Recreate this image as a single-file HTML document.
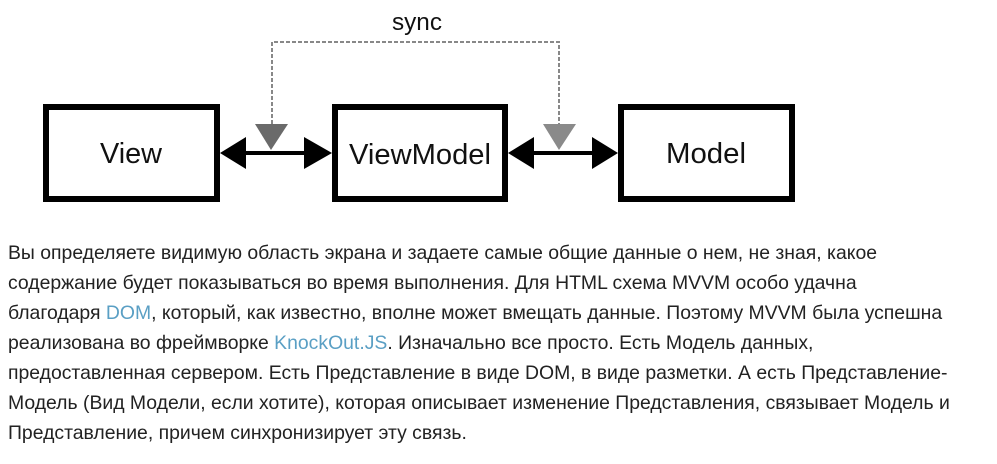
<!DOCTYPE html>
<html><head><meta charset="utf-8"><style>
body{margin:0;width:997px;height:464px;background:#fff;overflow:hidden;position:relative;font-family:"Liberation Sans",Arial,sans-serif}
.l{position:absolute;left:8px;font-size:19.4px;color:#222;white-space:nowrap;line-height:22px}
a{color:#5a9fc4;text-decoration:none}
</style></head><body>
<svg width="997" height="230" style="position:absolute;left:0;top:0" xmlns="http://www.w3.org/2000/svg">
<g fill="#fff" stroke="#000" stroke-width="6">
<rect x="46" y="107" width="171" height="92"/>
<rect x="335" y="107" width="170" height="92"/>
<rect x="621" y="107" width="171" height="92"/>
</g>
<g font-family="Liberation Sans, sans-serif" font-size="29" text-anchor="middle" fill="#111">
<text x="131" y="163" textLength="62" lengthAdjust="spacingAndGlyphs">View</text>
<text x="420" y="164" textLength="142" lengthAdjust="spacingAndGlyphs">ViewModel</text>
<text x="706" y="163" textLength="80" lengthAdjust="spacingAndGlyphs">Model</text>
<text x="417" y="30" font-size="24" textLength="50" lengthAdjust="spacingAndGlyphs">sync</text>
</g>
<path d="M272 124 V42 H559 V124" fill="none" stroke="#888" stroke-width="2" stroke-dasharray="4,2"/>
<polygon points="255,124 288,124 271,150" fill="#6a6a6a"/>
<polygon points="543,124 576,124 559,150" fill="#8a8a8a"/>
<g fill="#000">
<rect x="240" y="151" width="70" height="4"/>
<polygon points="220,153 246,137 246,169"/>
<polygon points="332,153 304,137 304,169"/>
<rect x="530" y="151" width="70" height="4"/>
<polygon points="508,153 534,137 534,169"/>
<polygon points="618,153 592,137 592,169"/>
</g>
</svg>
<div class="l" style="top:242px">Вы определяете видимую область экрана и задаете самые общие данные о нем, не зная, какое</div>
<div class="l" style="top:272px">содержание будет показываться во время выполнения. Для HTML схема MVVM особо удачна</div>
<div class="l" style="top:302px">благодаря <a>DOM</a>, который, как известно, вполне может вмещать данные. Поэтому MVVM была успешна</div>
<div class="l" style="top:332px">реализована во фреймворке <a>KnockOut.JS</a>. Изначально все просто. Есть Модель данных,</div>
<div class="l" style="top:362px">предоставленная сервером. Есть Представление в виде DOM, в виде разметки. А есть Представление-</div>
<div class="l" style="top:392px">Модель (Вид Модели, если хотите), которая описывает изменение Представления, связывает Модель и</div>
<div class="l" style="top:422px">Представление, причем синхронизирует эту связь.</div>
</body></html>
